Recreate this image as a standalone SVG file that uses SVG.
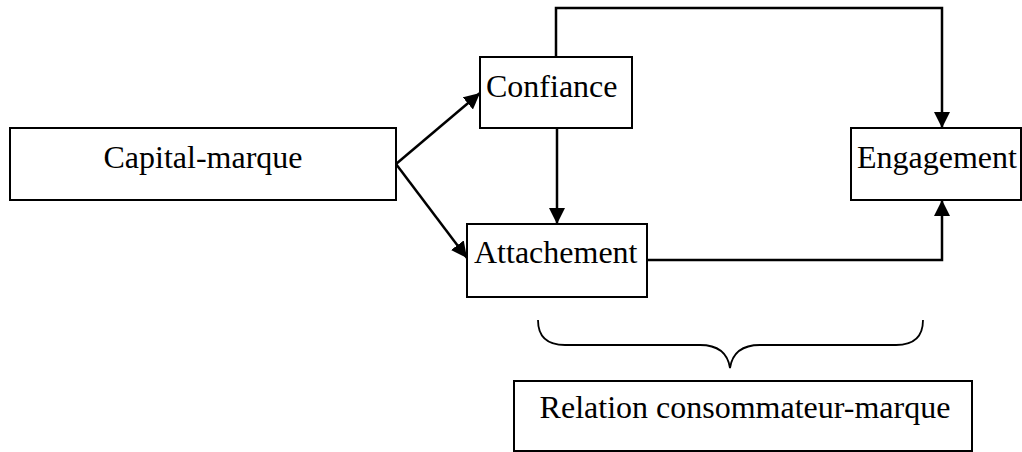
<svg xmlns="http://www.w3.org/2000/svg" width="1022" height="452" viewBox="0 0 1022 452">
<style>
.box{fill:#fff;stroke:#000;stroke-width:2}
.lbl{font-family:"Liberation Serif","Times New Roman",serif;font-size:32px;fill:#000}
.edge{fill:none;stroke:#000;stroke-width:2.5}
</style>
<defs>
<marker id="arr" markerUnits="userSpaceOnUse" markerWidth="18" markerHeight="18" refX="16" refY="8" orient="auto">
<path d="M0,0 L16,8 L0,16 z" fill="#000"/>
</marker>
</defs>
<rect width="1022" height="452" fill="#fff"/>
<g id="connectors">
<path class="edge" d="M396,164 L480,93" marker-end="url(#arr)"/>
<path class="edge" d="M396,164 L467,258" marker-end="url(#arr)"/>
<path class="edge" d="M557,128 L557,224" marker-end="url(#arr)"/>
<path class="edge" d="M556,57 V8 H942 V128" marker-end="url(#arr)"/>
<path class="edge" d="M647,260 H942 V200" marker-end="url(#arr)"/>
</g>
<g id="capital">
<rect class="box" x="10" y="128" width="386" height="72"/>
<text class="lbl" x="203" y="168" text-anchor="middle">Capital-marque</text>
</g>
<g id="confiance">
<rect class="box" x="480" y="57" width="152" height="71"/>
<text class="lbl" x="486" y="97">Confiance</text>
</g>
<g id="attachement">
<rect class="box" x="467" y="224" width="180" height="73"/>
<text class="lbl" x="474" y="263">Attachement</text>
</g>
<g id="engagement">
<rect class="box" x="851" y="128" width="170" height="72"/>
<text class="lbl" x="857" y="168">Engagement</text>
</g>
<g id="brace">
<path d="M538,320 C538,338 548,345 565,345 L700,345 C720,345 728,355 730,368 C732,355 740,345 760,345 L896,345 C913,345 923,338 923,320" fill="none" stroke="#000" stroke-width="1.8"/>
</g>
<g id="relation">
<rect class="box" x="514" y="381" width="458" height="70"/>
<text class="lbl" x="745" y="418" text-anchor="middle">Relation consommateur-marque</text>
</g>
</svg>
